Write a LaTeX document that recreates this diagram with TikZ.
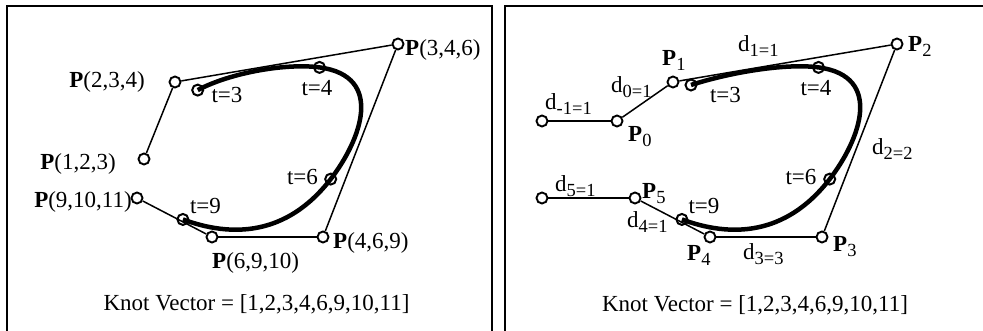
\documentclass[tikz,border=0pt]{standalone}
\usepackage{fontspec}
\setmainfont{Liberation Serif}
\newcommand\sbs[1]{\raisebox{-5pt}{\fontsize{18.5}{18.5}\selectfont #1}}
\begin{document}
\begin{tikzpicture}[x=1pt,y=-1pt,
  cp/.style={circle,draw,fill=white,line width=1.9pt,inner sep=0pt,minimum size=11pt},
  tp/.style={circle,draw,line width=2pt,inner sep=0pt,minimum size=11pt},
  poly/.style={line width=1.5pt},
  bcurve/.style={line width=4.5pt},
  frameline/.style={line width=2pt},
  lbl/.style={inner sep=0pt,font=\fontsize{23}{27}\selectfont}]
\useasboundingbox (0,0) rectangle (983,331);
\clip (0,0) rectangle (983,331);
% frames
\draw[frameline] (7,340) -- (7,6.5) -- (492,6.5) -- (492,340);
\draw[frameline] (505,340) -- (505,6.5) -- (995,6.5);

% ---------- left panel ----------
\node[cp] (a1) at (144,159) {};
\node[cp] (a2) at (175,82) {};
\node[cp] (a3) at (398,44) {};
\node[cp] (a4) at (323,237) {};
\node[cp] (a5) at (212,237) {};
\node[cp] (a6) at (137,198) {};
\draw[poly] (a1) -- (a2);
\draw[poly] (a2) -- (a3);
\draw[poly] (a3) -- (a4);
\draw[poly] (a4) -- (a5);
\draw[poly] (a5) -- (a6);
\coordinate (lt3) at (197.7,90.1);
\coordinate (lt4) at (319.5,67.4);
\coordinate (lt6) at (330.7,179.1);
\coordinate (lt9) at (182.9,219.45);
\draw[bcurve] (lt3) .. controls (230.75,72.5) and (286.5,63) .. (lt4)
  .. controls (385.5,76.17) and (360.5,140.5) .. (lt6)
  .. controls (286,237) and (230.5,237) .. (lt9);
\node[tp] at (lt3) {};
\node[tp] at (lt4) {};
\node[tp] at (lt6) {};
\node[tp] at (lt9) {};
\node[lbl,anchor=west] (la3) at (405,50) {\textbf{P}(3,4,6)};
\node[lbl,anchor=east] (la2) at (145,81.5) {\textbf{P}(2,3,4)};
\node[lbl,anchor=east] (la1) at (116,164) {\textbf{P}(1,2,3)};
\node[lbl,anchor=east] (la6) at (132,202) {\textbf{P}(9,10,11)};
\node[lbl,anchor=west] (la4) at (333,242.5) {\textbf{P}(4,6,9)};
\node[lbl,anchor=west] (la5) at (212,262.5) {\textbf{P}(6,9,10)};
\node[lbl] (ltl3) at (227,95) {t=3};
\node[lbl] (ltl4) at (317,88) {t=4};
\node[lbl] (ltl6) at (302.5,176.5) {t=6};
\node[lbl] (ltl9) at (205.5,206) {t=9};
\node[lbl] (lknot) at (256.5,304) {Knot Vector = [1,2,3,4,6,9,10,11]};

% ---------- right panel ----------
\node[cp] (e1) at (542,121) {};
\node[cp] (p0) at (617,121) {};
\node[cp] (p1) at (673,82) {};
\node[cp] (p2) at (897,44) {};
\node[cp] (p3) at (822,237) {};
\node[cp] (p4) at (710,237) {};
\node[cp] (p5) at (635,198) {};
\node[cp] (e2) at (542,198) {};
\draw[poly] (e1) -- (p0);
\draw[poly] (p0) -- (p1);
\draw[poly] (p1) -- (p2);
\draw[poly] (p2) -- (p3);
\draw[poly] (p3) -- (p4);
\draw[poly] (p4) -- (p5);
\draw[poly] (p5) -- (e2);
\coordinate (rt3) at (691,85);
\coordinate (rt4) at (818.5,67.4);
\coordinate (rt6) at (829.7,179.1);
\coordinate (rt9) at (681.9,219.45);
\draw[bcurve] (rt3) .. controls (729.75,72.5) and (785.5,63) .. (rt4)
  .. controls (884.5,76.17) and (859.5,140.5) .. (rt6)
  .. controls (785,237) and (729.5,237) .. (rt9);
\node[tp] at (rt3) {};
\node[tp] at (rt4) {};
\node[tp] at (rt6) {};
\node[tp] at (rt9) {};
\node[lbl,anchor=base west] (lp0) at (628,142) {\textbf{P}\sbs{0}};
\node[lbl,anchor=base west] (lp1) at (662,66) {\textbf{P}\sbs{1}};
\node[lbl,anchor=base west] (lp2) at (908,52) {\textbf{P}\sbs{2}};
\node[lbl,anchor=base west] (lp3) at (833,252) {\textbf{P}\sbs{3}};
\node[lbl,anchor=base west] (lp4) at (687,261) {\textbf{P}\sbs{4}};
\node[lbl,anchor=base west] (lp5) at (642,199) {\textbf{P}\sbs{5}};
\node[lbl,anchor=base west] (dm1) at (545,110) {d\sbs{-1=1}};
\node[lbl,anchor=base west] (d0) at (611,93) {d\sbs{0=1}};
\node[lbl,anchor=base west] (d1) at (738,52) {d\sbs{1=1}};
\node[lbl,anchor=base west] (d2) at (872,155) {d\sbs{2=2}};
\node[lbl,anchor=base west] (d3) at (743,260) {d\sbs{3=3}};
\node[lbl,anchor=base west] (d4) at (627,228) {d\sbs{4=1}};
\node[lbl,anchor=base west] (d5) at (555,192) {d\sbs{5=1}};
\node[lbl] (rtl3) at (725.5,95) {t=3};
\node[lbl] (rtl4) at (816,88) {t=4};
\node[lbl] (rtl6) at (801,177) {t=6};
\node[lbl] (rtl9) at (704,206) {t=9};
\node[lbl] (rknot) at (755,305) {Knot Vector = [1,2,3,4,6,9,10,11]};
\end{tikzpicture}
\end{document}
